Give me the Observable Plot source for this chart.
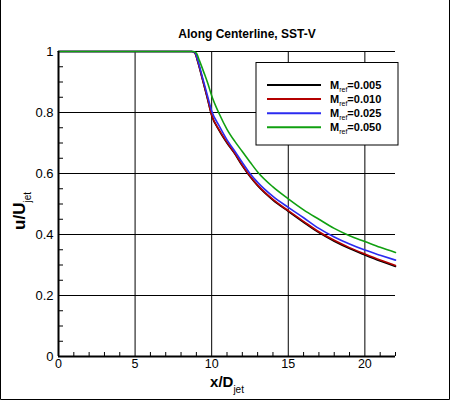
<!DOCTYPE html>
<html>
<head>
<meta charset="utf-8">
<script src="https://cdn.jsdelivr.net/npm/d3@7"></script>
<script src="https://cdn.jsdelivr.net/npm/@observablehq/plot@0.6"></script>
<style>
  body { margin: 0; background: #fff; }
  #chart { width: 450px; height: 401px; }
</style>
</head>
<body>
<div id="chart"></div>
<script>
// series
const seriesNames = ["0.005", "0.010", "0.025", "0.050"];
const seriesColors = ["#000000", "#b40000", "#2b2bf0", "#10a010"];

const x005 = [0, 8.7, 8.9, 9.1, 9.4, 9.7, 10, 10.5, 11, 11.5, 12, 12.5, 13, 14, 15, 16, 17, 18, 19, 20, 21, 22];
const y005 = [1, 1, 0.995, 0.965, 0.908, 0.85, 0.79, 0.74, 0.70, 0.665, 0.625, 0.59, 0.56, 0.513, 0.476, 0.44, 0.406, 0.378, 0.354, 0.333, 0.313, 0.295];

const x010 = [0, 8.7, 8.9, 9.1, 9.4, 9.7, 10, 10.5, 11, 11.5, 12, 12.5, 13, 14, 15, 16, 17, 18, 19, 20, 21, 22];
const y010 = [1, 1, 0.995, 0.966, 0.91, 0.852, 0.792, 0.742, 0.702, 0.667, 0.627, 0.592, 0.562, 0.515, 0.478, 0.443, 0.409, 0.381, 0.357, 0.336, 0.316, 0.298];

const x025 = [0, 8.7, 8.9, 9.1, 9.4, 9.7, 10, 10.5, 11, 11.5, 12, 12.5, 13, 14, 15, 16, 17, 18, 19, 20, 21, 22];
const y025 = [1, 1, 0.997, 0.97, 0.915, 0.86, 0.805, 0.755, 0.71, 0.674, 0.636, 0.6, 0.571, 0.525, 0.489, 0.455, 0.42, 0.392, 0.369, 0.349, 0.332, 0.316];

const x050 = [0, 8.8, 9.0, 9.2, 9.5, 9.75, 10, 10.5, 11, 11.5, 12, 12.5, 13, 14, 15, 16, 17, 18, 19, 20, 21, 22];
const y050 = [1, 1, 0.995, 0.97, 0.93, 0.895, 0.855, 0.795, 0.745, 0.706, 0.672, 0.638, 0.605, 0.556, 0.517, 0.481, 0.45, 0.42, 0.396, 0.377, 0.358, 0.341];

const xTicks = [0, 5, 10, 15, 20];
const yTicks = [0, 0.2, 0.4, 0.6, 0.8, 1];
const xMinor = [1, 2, 3, 4, 6, 7, 8, 9, 11, 12, 13, 14, 16, 17, 18, 19, 21, 22];
const yMinor = [0.05, 0.1, 0.15, 0.25, 0.3, 0.35, 0.45, 0.5, 0.55, 0.65, 0.7, 0.75, 0.85, 0.9, 0.95];

const allX = [x005, x010, x025, x050];
const allY = [y005, y010, y025, y050];
const rows = [];
seriesNames.forEach((name, i) => {
  allX[i].forEach((x, j) => rows.push({series: name, x: x, y: allY[i][j]}));
});

const W = 450, H = 401;
const mL = 58, mR = 55, mT = 51, mB = 45;
const fw = W - mL - mR, fh = H - mT - mB;
const font = "'Liberation Sans', Arial, sans-serif";

let chart = Plot.plot({
  width: W,
  height: H,
  marginLeft: mL,
  marginRight: mR,
  marginTop: mT,
  marginBottom: mB,
  style: {fontFamily: font, fontSize: "13px", color: "black", background: "white"},
  x: {domain: [0, 22], label: null},
  y: {domain: [0, 1], label: null},
  color: {domain: seriesNames, range: seriesColors},
  marks: [
    Plot.gridX(xTicks.slice(1), {stroke: "black", strokeOpacity: 1}),
    Plot.gridY(yTicks.slice(1), {stroke: "black", strokeOpacity: 1}),
    Plot.ruleX(xMinor, {x: d => d, insetTop: fh - 4, stroke: "black"}),
    Plot.ruleY(yMinor, {y: d => d, insetRight: fw - 5, stroke: "black"}),
    Plot.line(rows, {x: "x", y: "y", z: "series", stroke: "series", strokeWidth: 1.6, curve: "monotone-x"}),
    Plot.ruleX([0], {stroke: "black", strokeWidth: 2}),
    Plot.ruleY([0], {stroke: "black", strokeWidth: 2}),
    Plot.axisX(xTicks, {tickSize: 0, tickPadding: 3, fontSize: 12.5, tickFormat: d => String(d)}),
    Plot.axisY(yTicks, {tickSize: 0, tickPadding: 5, fontSize: 13, tickFormat: d => String(d)})
  ]
});

const svg = d3.select(chart);

// title
svg.append("text")
  .attr("x", 247).attr("y", 38)
  .attr("text-anchor", "middle")
  .attr("font-family", font).attr("font-size", 12).attr("font-weight", "bold")
  .attr("fill", "black")
  .text("Along Centerline, SST-V");

// x label
const xl = svg.append("text")
  .attr("x", 227).attr("y", 387)
  .attr("text-anchor", "middle")
  .attr("font-family", font).attr("font-size", 15).attr("font-weight", "bold")
  .attr("fill", "black");
xl.append("tspan").text("x/D");
xl.append("tspan").attr("dy", 6).attr("font-size", 10).attr("font-weight", "normal").text("jet");

// y label
const yl = svg.append("text")
  .attr("transform", "translate(25,211) rotate(-90)")
  .attr("text-anchor", "middle")
  .attr("font-family", font).attr("font-size", 17).attr("font-weight", "bold")
  .attr("fill", "black");
yl.append("tspan").text("u/U");
yl.append("tspan").attr("dy", 6).attr("font-size", 10).attr("font-weight", "normal").text("jet");

// legend
const lg = svg.append("g");
lg.append("rect")
  .attr("x", 256).attr("y", 62.5).attr("width", 142).attr("height", 82.5)
  .attr("fill", "white").attr("stroke", "black");
seriesNames.forEach((name, i) => {
  const ly = 85 + i * 14.1;
  lg.append("line")
    .attr("x1", 267).attr("x2", 321).attr("y1", ly).attr("y2", ly)
    .attr("stroke", seriesColors[i]).attr("stroke-width", 2);
  const t = lg.append("text")
    .attr("x", 330).attr("y", ly + 4)
    .attr("text-anchor", "start")
    .attr("font-family", font).attr("font-size", 11).attr("font-weight", "bold")
    .attr("fill", "black");
  t.append("tspan").text("M");
  t.append("tspan").attr("dy", 3).attr("font-size", 7).attr("font-weight", "normal").text("ref");
  t.append("tspan").attr("dy", -3).text("=" + name);
});

// outer border
svg.append("path")
  .attr("d", "M0.5,0 V399.5 H449.5 V0")
  .attr("fill", "none").attr("stroke", "black");

d3.select("#chart").append(() => chart);
</script>
</body>
</html>
